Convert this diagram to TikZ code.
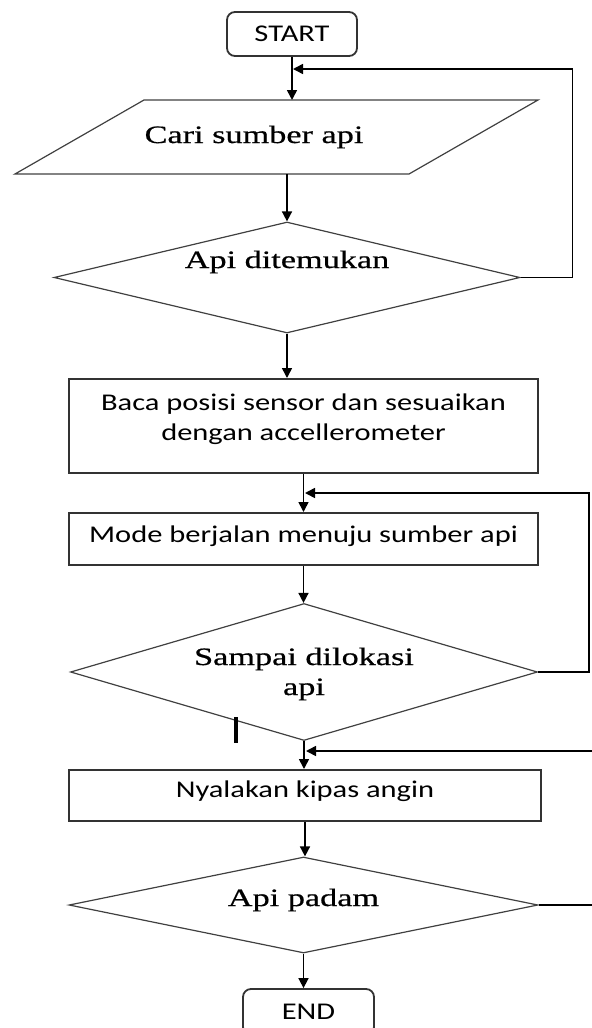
\documentclass[tikz,border=0pt]{standalone}
\usepackage{fontspec}
\newfontfamily\hurufkotak[FakeStretch=1.27]{Carlito}
\newfontfamily\hurufketupat[FakeStretch=1.37,FakeBold=0.6]{Liberation Serif}
\usetikzlibrary{arrows.meta,positioning,calc,shapes.geometric}
\tikzset{
  ujung/.style={draw=black!80,line width=0.9pt,rounded corners=4pt,inner sep=0pt,
    minimum width=65pt,minimum height=22pt,font=\hurufkotak\fontsize{12}{15}\selectfont},
  kotak/.style={draw=black!80,line width=1pt,inner sep=0pt,align=center,
    minimum width=234.5pt,font=\hurufkotak\fontsize{12}{15}\selectfont},
  ketupat/.style={diamond,draw=black!75,line width=0.6pt,inner sep=0pt,align=center,
    font=\hurufketupat\fontsize{12.5}{15}\selectfont},
  panah/.style={-{Triangle[length=5pt,width=5pt]},line width=0.8pt},
  jajar/.style={draw=black!75,line width=0.6pt},
}

\begin{document}
\begin{tikzpicture}[x=0.5pt,y=-0.5pt]
  \useasboundingbox (0,0) rectangle (591,1028);
  % awal dan input
  \node[ujung] (mulai) at (292,34) {START};
  \draw[jajar] (144,100) -- (538,100) -- (409,174) -- (15,174) -- cycle;
  \node[anchor=base,inner sep=0pt,font=\hurufketupat\fontsize{12.5}{15}\selectfont]
    (cari) at (254,143) {Cari sumber api};
  \coordinate (cari-n) at (292,100);
  \coordinate (cari-s) at (287,174);
  \node[ketupat,aspect=4.24,minimum width=233pt,minimum height=55.5pt,text height=9pt,text depth=18.5pt]
    (temu) at (287,277.5) {Api ditemukan};
  % proses
  \node[kotak,minimum height=47pt,text height=24pt,text depth=10pt] (baca) at (303.5,426)
    {Baca posisi sensor dan sesuaikan\\dengan accellerometer};
  \node[kotak,minimum height=26pt,text height=9pt,text depth=6pt] (jalan) at (303.5,539)
    {Mode berjalan menuju sumber api};
  \node[ketupat,aspect=3.41,minimum width=233.5pt,minimum height=68.5pt,text height=25pt,text depth=2pt]
    (sampai) at (304,672) {Sampai dilokasi\\api};
  \node[kotak,minimum width=236pt,minimum height=25.5pt,text height=9pt,text depth=7.5pt]
    (kipas) at (305,795.5) {Nyalakan kipas angin};
  \node[ketupat,aspect=4.89,minimum width=234.5pt,minimum height=48pt,text height=9pt,text depth=8pt]
    (padam) at (303.5,905) {Api padam};
  \node[ujung,minimum width=65.5pt,minimum height=23pt] (akhir) at (308.5,1012) {END};
  % titik masuk umpan balik
  \coordinate (balik1) at (293,69);
  \coordinate (balik2) at (305,493);
  \coordinate (balik3) at (306,751);
  % alur
  \draw[panah] (mulai.south) -- (cari-n);
  \draw[panah] (cari-s) -- (cari-s |- temu.north);
  \draw[panah] (temu.south) -- (temu.south |- baca.north);
  \draw[panah] (baca.south) -- (baca.south |- jalan.north);
  \draw[panah] (jalan.south) -- (jalan.south |- sampai.north);
  \draw[panah] (sampai.south) -- (sampai.south |- kipas.north);
  \draw[panah] (kipas.south) -- (kipas.south |- padam.north);
  \draw[panah] (padam.south) -- (padam.south |- akhir.north);
  \draw[panah] (temu.east) -- ++(52,0) |- (balik1);
  \draw[panah] (sampai.east) -- ++(51,0) |- (balik2);
  \draw[panah] (padam.east) -- ++(62,0) |- (balik3);
  \draw[line width=2pt] (236,717) -- (236,743);
\end{tikzpicture}
\end{document}
